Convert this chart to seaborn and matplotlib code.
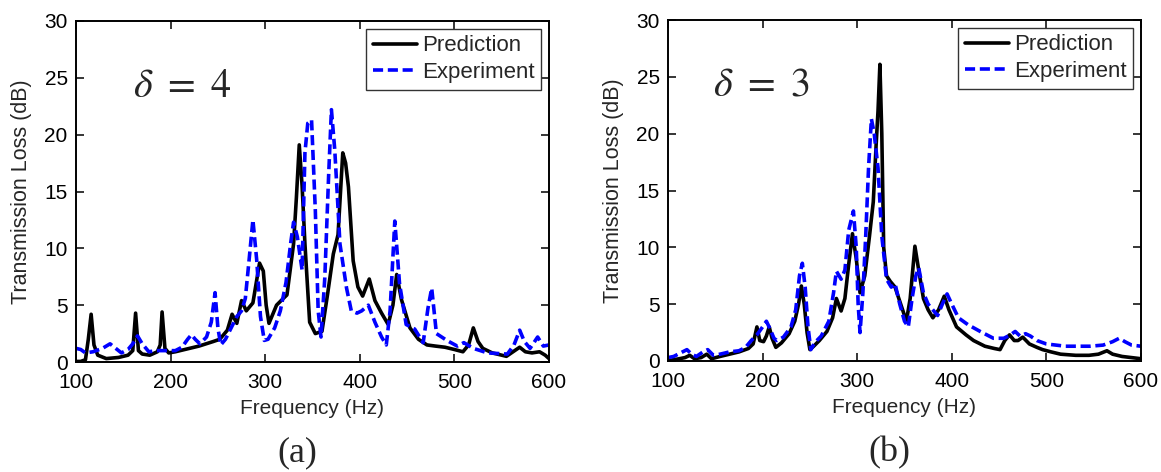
import numpy as np
import pandas as pd
import seaborn as sns
import matplotlib.pyplot as plt

# ---------------- data ----------------
# Panel (a), delta = 4
freq_a_pred = [100, 105, 110, 113, 116, 119, 123, 132, 145, 155, 160, 163, 166, 170, 178, 186, 189, 191,
               194, 198, 205, 215, 230, 245, 252, 260, 265, 270, 275, 280, 287, 294, 298, 301, 304, 312,
               318, 323, 330, 333, 336, 339, 342, 347, 353, 360, 366, 372, 377, 382, 385, 388, 393, 398,
               403, 410, 416, 423, 430, 435, 439, 444, 453, 462, 471, 480, 490, 500, 509, 515, 520, 525,
               530, 540, 550, 555, 562, 569, 575, 582, 590, 596, 600]
tl_a_pred = [0.05, 0.05, 0.2, 2.0, 4.2, 1.5, 0.6, 0.3, 0.4, 0.6, 1.0, 4.3, 1.0, 0.7, 0.6, 0.9, 1.5, 4.4,
             1.2, 0.8, 0.9, 1.1, 1.4, 1.8, 2.0, 2.8, 4.2, 3.4, 5.4, 4.5, 5.2, 8.7, 8.0, 5.0, 3.4, 5.0,
             5.5, 5.9, 10.4, 14.5, 19.1, 15.5, 10.4, 3.5, 2.5, 2.7, 6.0, 9.5, 11.2, 18.4, 17.5, 15.4, 8.9, 6.6,
             5.8, 7.3, 5.4, 4.3, 3.3, 5.0, 7.7, 5.5, 3.0, 2.0, 1.5, 1.4, 1.3, 1.1, 0.9, 1.5, 3.0, 1.8,
             1.2, 0.8, 0.6, 0.5, 0.9, 1.3, 0.9, 0.8, 0.9, 0.6, 0.3]

freq_a_exp = [100, 105, 110, 118, 128, 136, 142, 148, 155, 160, 165, 170, 177, 185, 195, 205, 212, 218,
              222, 226, 231, 238, 243, 247, 250, 253, 258, 264, 270, 275, 279, 283, 287, 291, 295, 299,
              303, 310, 316, 322, 327, 330, 334, 339, 342, 345, 349, 353, 356, 359, 363, 367, 370, 373.5,
              376, 379, 386, 391, 397, 402, 409, 416, 423, 428, 432, 437, 442, 449, 458, 467, 472, 476,
              481, 492, 503, 510, 520, 535, 556, 563, 569, 574, 580, 588, 594, 600]
tl_a_exp = [1.2, 1.1, 0.8, 0.9, 1.2, 1.6, 1.2, 0.8, 1.1, 1.6, 2.3, 1.6, 0.9, 1.0, 1.0, 1.0, 1.3, 2.0,
            2.4, 2.0, 1.6, 2.2, 3.5, 6.1, 3.0, 1.5, 2.0, 3.0, 4.0, 4.5, 5.6, 9.0, 12.5, 9.0, 4.0, 1.9,
            2.0, 3.0, 4.5, 7.0, 10.5, 12.3, 11.0, 8.1, 18.4, 21.0, 21.3, 13.3, 4.5, 2.2, 7.4, 16.3, 22.2, 18.7,
            15.0, 10.4, 6.5, 4.5, 4.3, 4.5, 5.0, 3.5, 2.2, 1.5, 4.5, 12.4, 6.9, 3.3, 2.9, 1.7, 4.7, 6.5,
            2.5, 1.9, 1.4, 1.7, 1.2, 0.8, 0.7, 1.5, 2.8, 1.8, 1.2, 2.2, 1.4, 1.5]

# Panel (b), delta = 3
freq_b_pred = [100, 105, 112, 118, 123, 128, 135, 141, 146, 155, 165, 175, 185, 190, 194, 197, 201, 204,
               207, 210, 214, 220, 228, 234, 238, 241, 244, 247, 250, 254, 260, 268, 274, 278, 283, 287,
               291, 295, 299, 303, 308, 313, 317, 320, 322, 324, 326, 328, 331, 335, 340, 346, 352, 356,
               361, 365, 370, 375, 380, 386, 392, 397, 405, 415, 423, 435, 445, 451, 456, 461, 466, 470,
               475, 482, 490, 496, 505, 515, 531, 545, 555, 564, 570, 580, 590, 600]
tl_b_pred = [0.0, 0.1, 0.2, 0.3, 0.5, 0.2, 0.3, 0.6, 0.2, 0.4, 0.6, 0.8, 1.1, 1.5, 3.0, 1.8, 1.7, 2.2,
             3.0, 2.0, 1.2, 1.6, 2.4, 3.5, 5.0, 6.6, 5.0, 2.5, 1.0, 1.3, 1.8, 2.6, 3.8, 5.5, 4.4, 5.5,
             8.5, 11.2, 9.0, 6.0, 7.5, 11.0, 14.0, 19.0, 22.0, 26.1, 20.0, 10.0, 7.5, 7.0, 6.5, 5.0, 3.5, 5.5,
             10.1, 8.0, 5.5, 4.5, 3.8, 4.5, 5.7, 4.5, 3.0, 2.3, 1.8, 1.3, 1.1, 1.0, 1.8, 2.3, 1.8, 1.8,
             2.1, 1.5, 1.2, 1.0, 0.8, 0.6, 0.5, 0.5, 0.6, 0.9, 0.6, 0.4, 0.3, 0.2]

freq_b_exp = [100, 106, 113, 120, 125, 130, 137, 142, 148, 155, 165, 175, 182, 188, 194, 200, 204, 208,
              212, 215, 222, 230, 235, 239, 242, 245, 248, 251, 255, 262, 270, 275, 278, 283, 287, 291,
              296, 299, 301, 303, 306, 309, 312, 315, 318, 322, 326, 331, 336, 340, 345, 350, 354, 358,
              362, 365, 370, 375, 380, 385, 390, 395, 400, 407, 417, 430, 444, 455, 462, 467, 472, 478,
              483, 490, 500, 510, 520, 535, 546, 560, 570, 577, 583, 590, 600]
tl_b_exp = [0.3, 0.4, 0.7, 1.0, 0.6, 0.4, 0.8, 1.0, 0.5, 0.6, 0.8, 0.9, 1.2, 1.8, 2.3, 3.0, 3.5, 2.8,
            2.0, 1.8, 2.1, 3.0, 4.5, 7.5, 8.6, 6.5, 3.0, 1.0, 1.6, 2.2, 3.5, 6.0, 7.9, 7.2, 8.0, 11.5,
            13.2, 10.0, 5.0, 2.5, 6.0, 11.0, 17.0, 21.3, 20.0, 17.0, 11.0, 7.2, 6.5, 6.8, 5.0, 3.5, 3.0, 5.5,
            7.5, 8.2, 6.0, 5.0, 4.5, 4.0, 5.0, 5.9, 5.0, 3.8, 3.2, 2.6, 2.0, 2.0, 2.3, 2.6, 2.2, 2.4,
            2.2, 1.8, 1.5, 1.4, 1.3, 1.3, 1.3, 1.4, 1.7, 2.0, 1.7, 1.4, 1.3]

series_names = ["Prediction", "Experiment"]
x_ticks = [100, 200, 300, 400, 500, 600]
y_ticks = [0, 5, 10, 15, 20, 25, 30]
panel_labels = ["(a)", "(b)"]
delta_texts = [r"$\delta\ =\ 4$", r"$\delta\ =\ 3$"]
delta_x = [212, 199]

# ---------------- style ----------------
sns.set_theme(style="ticks")
plt.rcParams["font.family"] = ["Liberation Sans", "DejaVu Sans"]
plt.rcParams["mathtext.fontset"] = "stix"

fig = plt.figure(figsize=(11.61, 4.72), dpi=100)
W, H = 1161, 472
ax_a = fig.add_axes([76 / W, 1 - 362 / H, 473 / W, 341 / H])
ax_b = fig.add_axes([668 / W, 1 - 361 / H, 473 / W, 341 / H])

panels = [
    (ax_a, freq_a_pred, tl_a_pred, freq_a_exp, tl_a_exp),
    (ax_b, freq_b_pred, tl_b_pred, freq_b_exp, tl_b_exp),
]

for i, (ax, fp, tp, fe, te) in enumerate(panels):
    sns.lineplot(x=fp, y=tp, ax=ax, color="black", linewidth=2.6, label=series_names[0],
                 estimator=None, sort=False)
    sns.lineplot(x=fe, y=te, ax=ax, color="#0000ff", linewidth=2.6, linestyle=(0, (2.8, 1.3)),
                 label=series_names[1], estimator=None, sort=False)
    ax.set_xlim(100, 600)
    ax.set_ylim(0, 30)
    ax.set_xticks(x_ticks)
    ax.set_yticks(y_ticks)
    ax.tick_params(direction="in", top=True, right=True, length=6, width=1.1,
                   labelsize=15, pad=6, colors="black")
    ax.tick_params(axis="x", pad=8)
    for sp in ax.spines.values():
        sp.set_color("black")
        sp.set_linewidth(1.4)
        sp.set_visible(True)
    ax.set_xlabel("Frequency (Hz)", fontsize=15, labelpad=5)
    ax.set_ylabel("Transmission Loss (dB)", fontsize=15.5, labelpad=9)
    leg = ax.legend(loc="upper right", fontsize=16, frameon=True, fancybox=False,
                    edgecolor="#333333", framealpha=1, handlelength=2.0, handletextpad=0.2,
                    labelspacing=0.25, borderpad=0.3, borderaxespad=0.35)
    leg.get_frame().set_linewidth(1.0)
    ax.text(delta_x[i], 24.3, delta_texts[i], fontsize=29, ha="center", va="center")
    pos = ax.get_position()
    fig.text(pos.x0 + pos.width / 2 - 15 / W, 1 - 453 / H, panel_labels[i], fontsize=26,
             family=["Liberation Serif", "DejaVu Serif"], ha="center", va="center")

fig.savefig("out.png", dpi=100)
